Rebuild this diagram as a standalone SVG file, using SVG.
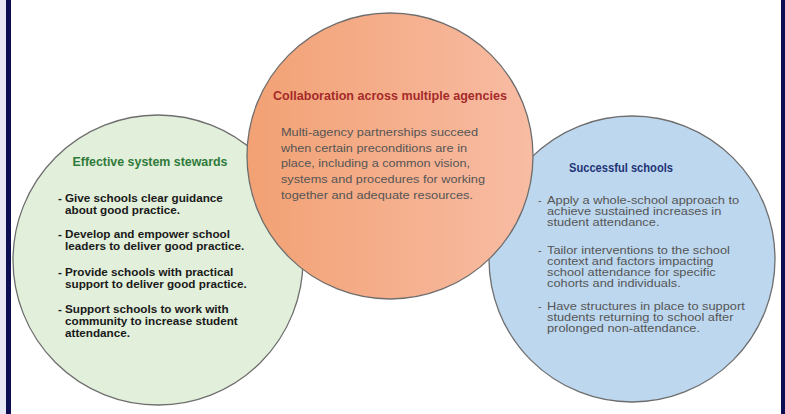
<svg xmlns="http://www.w3.org/2000/svg" width="785" height="414" viewBox="0 0 785 414">
<defs>
<linearGradient id="og" x1="0" y1="0" x2="1" y2="0">
<stop offset="0" stop-color="#f2a173"/>
<stop offset="1" stop-color="#f8bca4"/>
</linearGradient>
</defs>
<style>
.circ{stroke:#6e6e6e;stroke-width:1.3}
.title{font-family:"Liberation Sans",Arial,sans-serif;font-weight:bold;font-size:13px}
.body{font-family:"Liberation Sans",Arial,sans-serif;font-size:11px;fill:#555555}
.bb{font-family:"Liberation Sans",Arial,sans-serif;font-size:10.5px;fill:#555555}
.gb{font-family:"Liberation Sans",Arial,sans-serif;font-weight:bold;font-size:11.7px;fill:#1a1a1a}
</style>
<rect x="0" y="0" width="785" height="414" fill="#ffffff"/>
<rect x="0" y="0" width="6" height="414" fill="#e8e8f4"/>
<rect x="6" y="0" width="5" height="414" fill="#0d0d52"/>
<rect x="781" y="0" width="4" height="414" fill="#0d0d52"/>
<g id="stewards">
<circle class="circ" cx="158" cy="260" r="145" fill="#e2efda"/>
<text class="title" x="150" y="166" text-anchor="middle" fill="#2f7a3a" textLength="155" lengthAdjust="spacingAndGlyphs">Effective system stewards</text>
<g class="gb">
<text x="58" y="202">-</text>
<text x="65" y="202">Give schools clear guidance</text>
<text x="65" y="214">about good practice.</text>
<text x="58" y="238">-</text>
<text x="65" y="238">Develop and empower school</text>
<text x="65" y="250">leaders to deliver good practice.</text>
<text x="58" y="276">-</text>
<text x="65" y="276">Provide schools with practical</text>
<text x="65" y="288">support to deliver good practice.</text>
<text x="58" y="313">-</text>
<text x="65" y="313">Support schools to work with</text>
<text x="65" y="325">community to increase student</text>
<text x="65" y="337">attendance.</text>
</g>
</g>
<g id="schools">
<circle class="circ" cx="632" cy="259" r="143" fill="#bdd7ee"/>
<text class="title" x="621" y="172" text-anchor="middle" fill="#1f3477" textLength="104" lengthAdjust="spacingAndGlyphs">Successful schools</text>
<g class="bb">
<text x="538" y="204">-</text>
<text x="538" y="254">-</text>
<text x="538" y="310">-</text>
<g transform="translate(547,0) scale(1.22,1)">
<text x="0" y="204">Apply a whole-school approach to</text>
<text x="0" y="215">achieve sustained increases in</text>
<text x="0" y="226">student attendance.</text>
<text x="0" y="254">Tailor interventions to the school</text>
<text x="0" y="265">context and factors impacting</text>
<text x="0" y="276">school attendance for specific</text>
<text x="0" y="287">cohorts and individuals.</text>
<text x="0" y="310">Have structures in place to support</text>
<text x="0" y="321">students returning to school after</text>
<text x="0" y="332">prolonged non-attendance.</text>
</g>
</g>
</g>
<g id="collaboration">
<circle class="circ" cx="390" cy="156" r="143" fill="url(#og)"/>
<text class="title" x="390" y="100" text-anchor="middle" fill="#a52a2a" textLength="234" lengthAdjust="spacingAndGlyphs">Collaboration across multiple agencies</text>
<g class="body">
<text x="281" y="136" textLength="197" lengthAdjust="spacingAndGlyphs">Multi-agency partnerships succeed</text>
<text x="281" y="152" textLength="186" lengthAdjust="spacingAndGlyphs">when certain preconditions are in</text>
<text x="281" y="167" textLength="189" lengthAdjust="spacingAndGlyphs">place, including a common vision,</text>
<text x="281" y="183" textLength="204" lengthAdjust="spacingAndGlyphs">systems and procedures for working</text>
<text x="281" y="199" textLength="192" lengthAdjust="spacingAndGlyphs">together and adequate resources.</text>
</g>
</g>
<g id="connectors"></g>
</svg>
